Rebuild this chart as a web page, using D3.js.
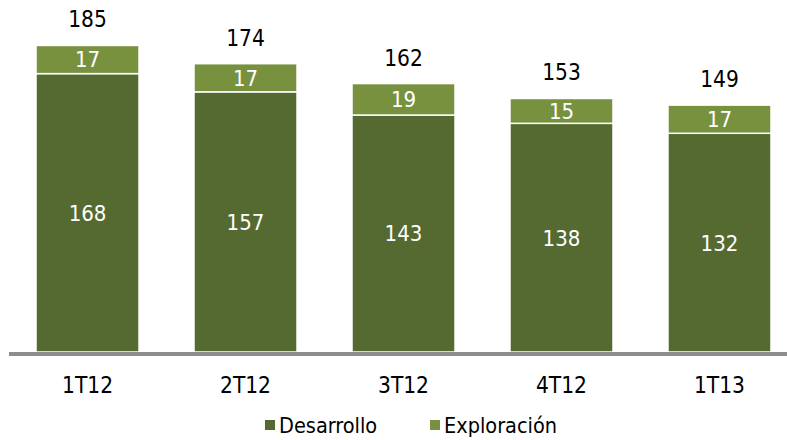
<!DOCTYPE html>
<html><head><meta charset="utf-8">
<script src="https://cdn.jsdelivr.net/npm/d3@7"></script>
<style>body{margin:0;background:#fff}svg{display:block}text{font-family:"DejaVu Sans Condensed","DejaVu Sans",sans-serif}</style>
</head><body>
<script>
const categories = ["1T12","2T12","3T12","4T12","1T13"];
const desarrollo = [168,157,143,138,132];
const exploracion = [17,17,19,15,17];
const totals = [185,174,162,153,149];
const seriesNames = ["Desarrollo","Exploración"];
const colors = ["#546a31","#77913f"];

const W=787,H=440;
const svg=d3.select("body").append("svg").attr("width",W).attr("height",H);
const x=d3.scaleBand().domain(categories).range([9,798]).paddingInner(0.348).paddingOuter(0.171);
const y=d3.scaleLinear().domain([0,200]).range([352,20.6]);

const data=categories.map((c,i)=>({c,d:desarrollo[i],e:exploracion[i],t:totals[i]}));
const stack=d3.stack().keys(["d","e"])(data);

stack.forEach((s,k)=>{
  svg.append("g").selectAll("rect").data(s).join("rect")
    .attr("x",d=>x(d.data.c)).attr("width",x.bandwidth())
    .attr("y",d=>y(d[1])).attr("height",d=>y(d[0])-y(d[1]))
    .attr("fill",colors[k]).attr("stroke","#fff").attr("stroke-width",1.5);
  svg.append("g").selectAll("text").data(s).join("text")
    .attr("x",d=>x(d.data.c)+x.bandwidth()/2)
    .attr("y",d=>(y(d[0])+y(d[1]))/2)
    .attr("dy","0.36em").attr("text-anchor","middle")
    .attr("fill","#fff").attr("font-size",22)
    .text(d=>d[1]-d[0]);
});

svg.append("g").selectAll("text").data(data).join("text")
  .attr("x",d=>x(d.c)+x.bandwidth()/2).attr("y",d=>y(d.t)-18)
  .attr("text-anchor","middle").attr("font-size",22.5).attr("fill","#000")
  .text(d=>d.t);

svg.append("line").attr("x1",9).attr("x2",787).attr("y1",354).attr("y2",354)
  .attr("stroke","#8d8d8d").attr("stroke-width",4);

const ax=svg.append("g").attr("transform","translate(0,352)")
  .call(d3.axisBottom(x).tickSize(0).tickPadding(0));
ax.select(".domain").remove();
ax.selectAll("text").attr("font-size",22.5).attr("fill","#000").attr("dy",null).attr("y",41)
  .style("font-family",'"DejaVu Sans Condensed","DejaVu Sans",sans-serif');

const legX=[265,430];
const lg=svg.append("g");
seriesNames.forEach((n,i)=>{
  lg.append("rect").attr("x",legX[i]).attr("y",420).attr("width",10).attr("height",10).attr("fill",colors[i]);
  lg.append("text").attr("x",legX[i]+14).attr("y",433).attr("font-size",21.5).attr("fill","#000").text(n);
});
</script>
</body></html>
